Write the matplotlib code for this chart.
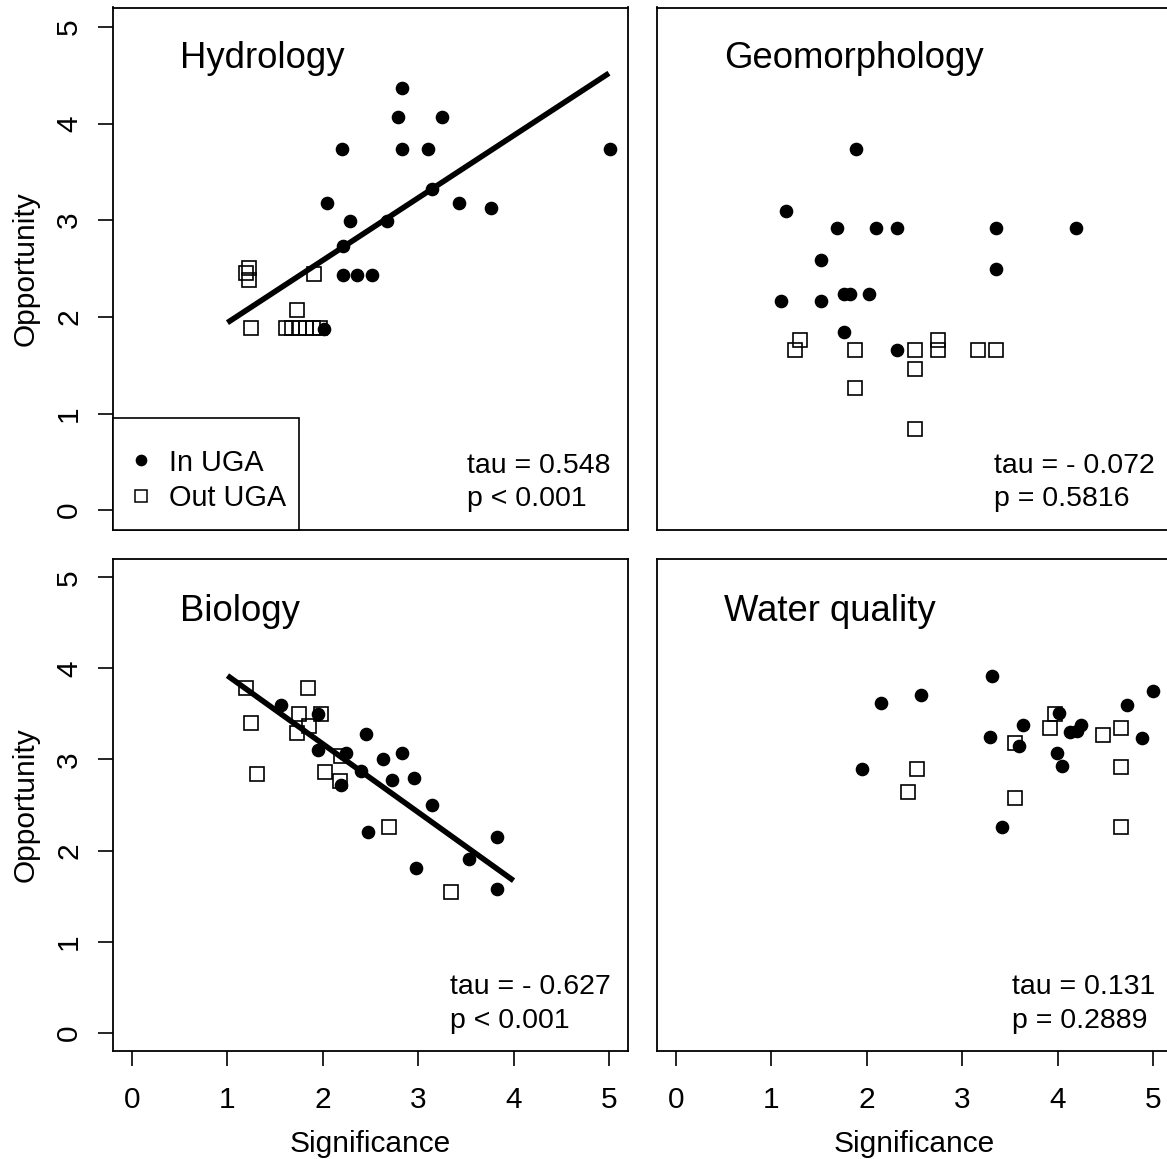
import matplotlib
matplotlib.use("Agg")
import matplotlib.pyplot as plt
from matplotlib.lines import Line2D
from matplotlib.patches import Rectangle
import numpy as np

plt.rcParams['font.family'] = ['Liberation Sans', 'DejaVu Sans']

# ---------------- data ----------------
hydro_in_x = [2.83, 2.79, 3.25, 2.20, 2.83, 3.10, 5.01, 3.14, 2.04, 3.43, 3.76, 2.28, 2.67, 2.21, 2.21, 2.36, 2.52, 2.01]
hydro_in_y = [4.37, 4.07, 4.07, 3.74, 3.74, 3.74, 3.74, 3.32, 3.18, 3.18, 3.13, 2.99, 2.99, 2.73, 2.43, 2.43, 2.43, 1.87]
hydro_out_x = [1.19, 1.23, 1.23, 1.91, 1.73, 1.25, 1.61, 1.68, 1.75, 1.82, 1.90, 1.97]
hydro_out_y = [2.45, 2.51, 2.38, 2.44, 2.07, 1.88, 1.88, 1.88, 1.88, 1.88, 1.88, 1.88]
hydro_fit = (1.295, 0.645)      # intercept, slope
hydro_fit_range = (1.0, 5.0)
hydro_stats = "tau = 0.548\np < 0.001"

geo_in_x = [1.89, 1.15, 1.69, 2.10, 2.32, 3.35, 4.19, 1.52, 3.35, 1.10, 1.52, 1.76, 1.82, 2.02, 1.76, 2.32]
geo_in_y = [3.74, 3.09, 2.92, 2.92, 2.92, 2.92, 2.92, 2.59, 2.49, 2.16, 2.16, 2.24, 2.24, 2.24, 1.84, 1.66]
geo_out_x = [1.25, 1.30, 1.88, 1.88, 2.51, 2.51, 2.51, 2.75, 2.75, 3.17, 3.35]
geo_out_y = [1.66, 1.76, 1.66, 1.26, 1.66, 1.46, 0.84, 1.76, 1.66, 1.66, 1.66]
geo_stats = "tau = - 0.072\np = 0.5816"

bio_in_x = [1.56, 1.95, 1.95, 2.24, 2.45, 2.19, 2.40, 2.63, 2.83, 2.73, 2.96, 3.15, 2.47, 2.98, 3.53, 3.83, 3.83]
bio_in_y = [3.60, 3.50, 3.10, 3.07, 3.28, 2.72, 2.87, 3.01, 3.07, 2.77, 2.80, 2.50, 2.20, 1.81, 1.91, 2.15, 1.58]
bio_out_x = [1.19, 1.84, 1.25, 1.75, 1.98, 1.73, 1.85, 1.31, 2.02, 2.19, 2.18, 2.69, 3.34]
bio_out_y = [3.78, 3.78, 3.40, 3.50, 3.50, 3.29, 3.37, 2.84, 2.86, 3.04, 2.76, 2.26, 1.54]
bio_fit = (4.67, -0.75)
bio_fit_range = (1.0, 4.0)
bio_stats = "tau = - 0.627\np < 0.001"

wq_in_x = [3.31, 2.15, 2.57, 5.00, 4.73, 3.64, 3.29, 3.60, 4.02, 4.13, 4.20, 4.25, 3.99, 4.05, 4.89, 1.95, 3.42]
wq_in_y = [3.92, 3.62, 3.71, 3.75, 3.60, 3.38, 3.25, 3.15, 3.51, 3.30, 3.31, 3.38, 3.07, 2.93, 3.24, 2.89, 2.26]
wq_out_x = [3.97, 3.92, 3.55, 4.48, 4.67, 4.67, 4.67, 2.53, 2.43, 3.55]
wq_out_y = [3.50, 3.34, 3.18, 3.27, 3.34, 2.92, 2.26, 2.89, 2.64, 2.58]
wq_stats = "tau = 0.131\np = 0.2889"

titles = ["Hydrology", "Geomorphology", "Biology", "Water quality"]
tick_vals = [0, 1, 2, 3, 4, 5]
legend_labels = ["In UGA", "Out UGA"]

# ---------------- layout ----------------
W, H = 1167, 1159
fig = plt.figure(figsize=(W / 100, H / 100), dpi=100)

def px_axes(l, t, r, b):
    return fig.add_axes([l / W, 1 - b / H, (r - l) / W, (b - t) / H])

ax_tl = px_axes(113, 7.5, 628, 529.5)
ax_tr = px_axes(657, 7.5, 1172, 529.5)
ax_bl = px_axes(113, 559, 628, 1051)
ax_br = px_axes(657, 559, 1172, 1051)

FS = 21.5     # axis text
SFS = 20.5    # stats text
LFS = 20.8    # legend text
TFS = 26.3    # panel titles

panels = [
    (ax_tl, hydro_in_x, hydro_in_y, hydro_out_x, hydro_out_y, hydro_fit, hydro_fit_range, hydro_stats, titles[0]),
    (ax_tr, geo_in_x, geo_in_y, geo_out_x, geo_out_y, None, None, geo_stats, titles[1]),
    (ax_bl, bio_in_x, bio_in_y, bio_out_x, bio_out_y, bio_fit, bio_fit_range, bio_stats, titles[2]),
    (ax_br, wq_in_x, wq_in_y, wq_out_x, wq_out_y, None, None, wq_stats, titles[3]),
]

for i, (ax, ix, iy, ox, oy, fit, frange, stats, title) in enumerate(panels):
    ax.set_xlim(-0.2, 5.2)
    ax.set_ylim(-0.2, 5.2)
    for sp in ax.spines.values():
        sp.set_linewidth(1.3)
        sp.set_color('black')
    ax.plot(ox, oy, linestyle='none', marker='s', markersize=9.5,
            markerfacecolor='none', markeredgecolor='black', markeredgewidth=1.2,
            zorder=3)
    ax.plot(ix, iy, linestyle='none', marker='o', markersize=8.8,
            markerfacecolor='black', markeredgecolor='black', zorder=4)
    if fit is not None:
        xs = np.array(frange)
        ax.plot(xs, fit[0] + fit[1] * xs, color='black', linewidth=4.0, zorder=5,
                solid_capstyle='butt')
    top = i < 2
    ty = 4.57 if top else 4.52
    ax.text(0.50, ty, title, fontsize=TFS, ha='left', va='baseline')
    sy = -0.02 if top else -0.01
    ax.text(5.02, sy, stats, fontsize=SFS, ha='right', va='bottom',
            multialignment='left', linespacing=1.36)

    ax.set_xticks(tick_vals)
    ax.set_yticks(tick_vals)
    ax.tick_params(direction='out', length=11, width=1.2, labelsize=FS)
    ax.tick_params(axis='x', pad=14.5)
    ax.tick_params(axis='y', pad=10.5)
    if top:
        ax.tick_params(axis='x', bottom=False, labelbottom=False)
    else:
        ax.set_xlabel("Significance", fontsize=FS, labelpad=11)
    if i % 2 == 1:
        ax.tick_params(axis='y', left=False, labelleft=False)
    else:
        ax.set_ylabel("Opportunity", fontsize=FS, labelpad=11)
        for lab in ax.get_yticklabels():
            lab.set_rotation(90)
            lab.set_va('center')

# legend (R style box in lower-left of the Hydrology panel)
box_w = (299 - 113) / 515
box_h = (529.5 - 418.3) / 522
ax_tl.add_patch(Rectangle((0, 0), box_w, box_h, transform=ax_tl.transAxes,
                          facecolor='white', edgecolor='black', linewidth=1.2,
                          zorder=6, clip_on=False))
h_in = Line2D([], [], linestyle='none', marker='o', markersize=7.4,
              markerfacecolor='black', markeredgecolor='black')
h_out = Line2D([], [], linestyle='none', marker='s', markersize=8.6,
               markerfacecolor='none', markeredgecolor='black', markeredgewidth=1.1)
fs_px = LFS / 72 * 100
hl = 0.6
anchor_x = (140.7 - hl * fs_px / 2 - 113) / 515
anchor_y = (529.5 - 480.5) / 522
leg = ax_tl.legend([h_in, h_out], legend_labels, loc='center left',
                   bbox_to_anchor=(anchor_x, anchor_y), borderaxespad=0,
                   borderpad=0, fontsize=LFS, frameon=False,
                   handlelength=hl, handletextpad=0.68, labelspacing=0.27)
leg.set_zorder(7)

fig.savefig("out.png", dpi=100)
